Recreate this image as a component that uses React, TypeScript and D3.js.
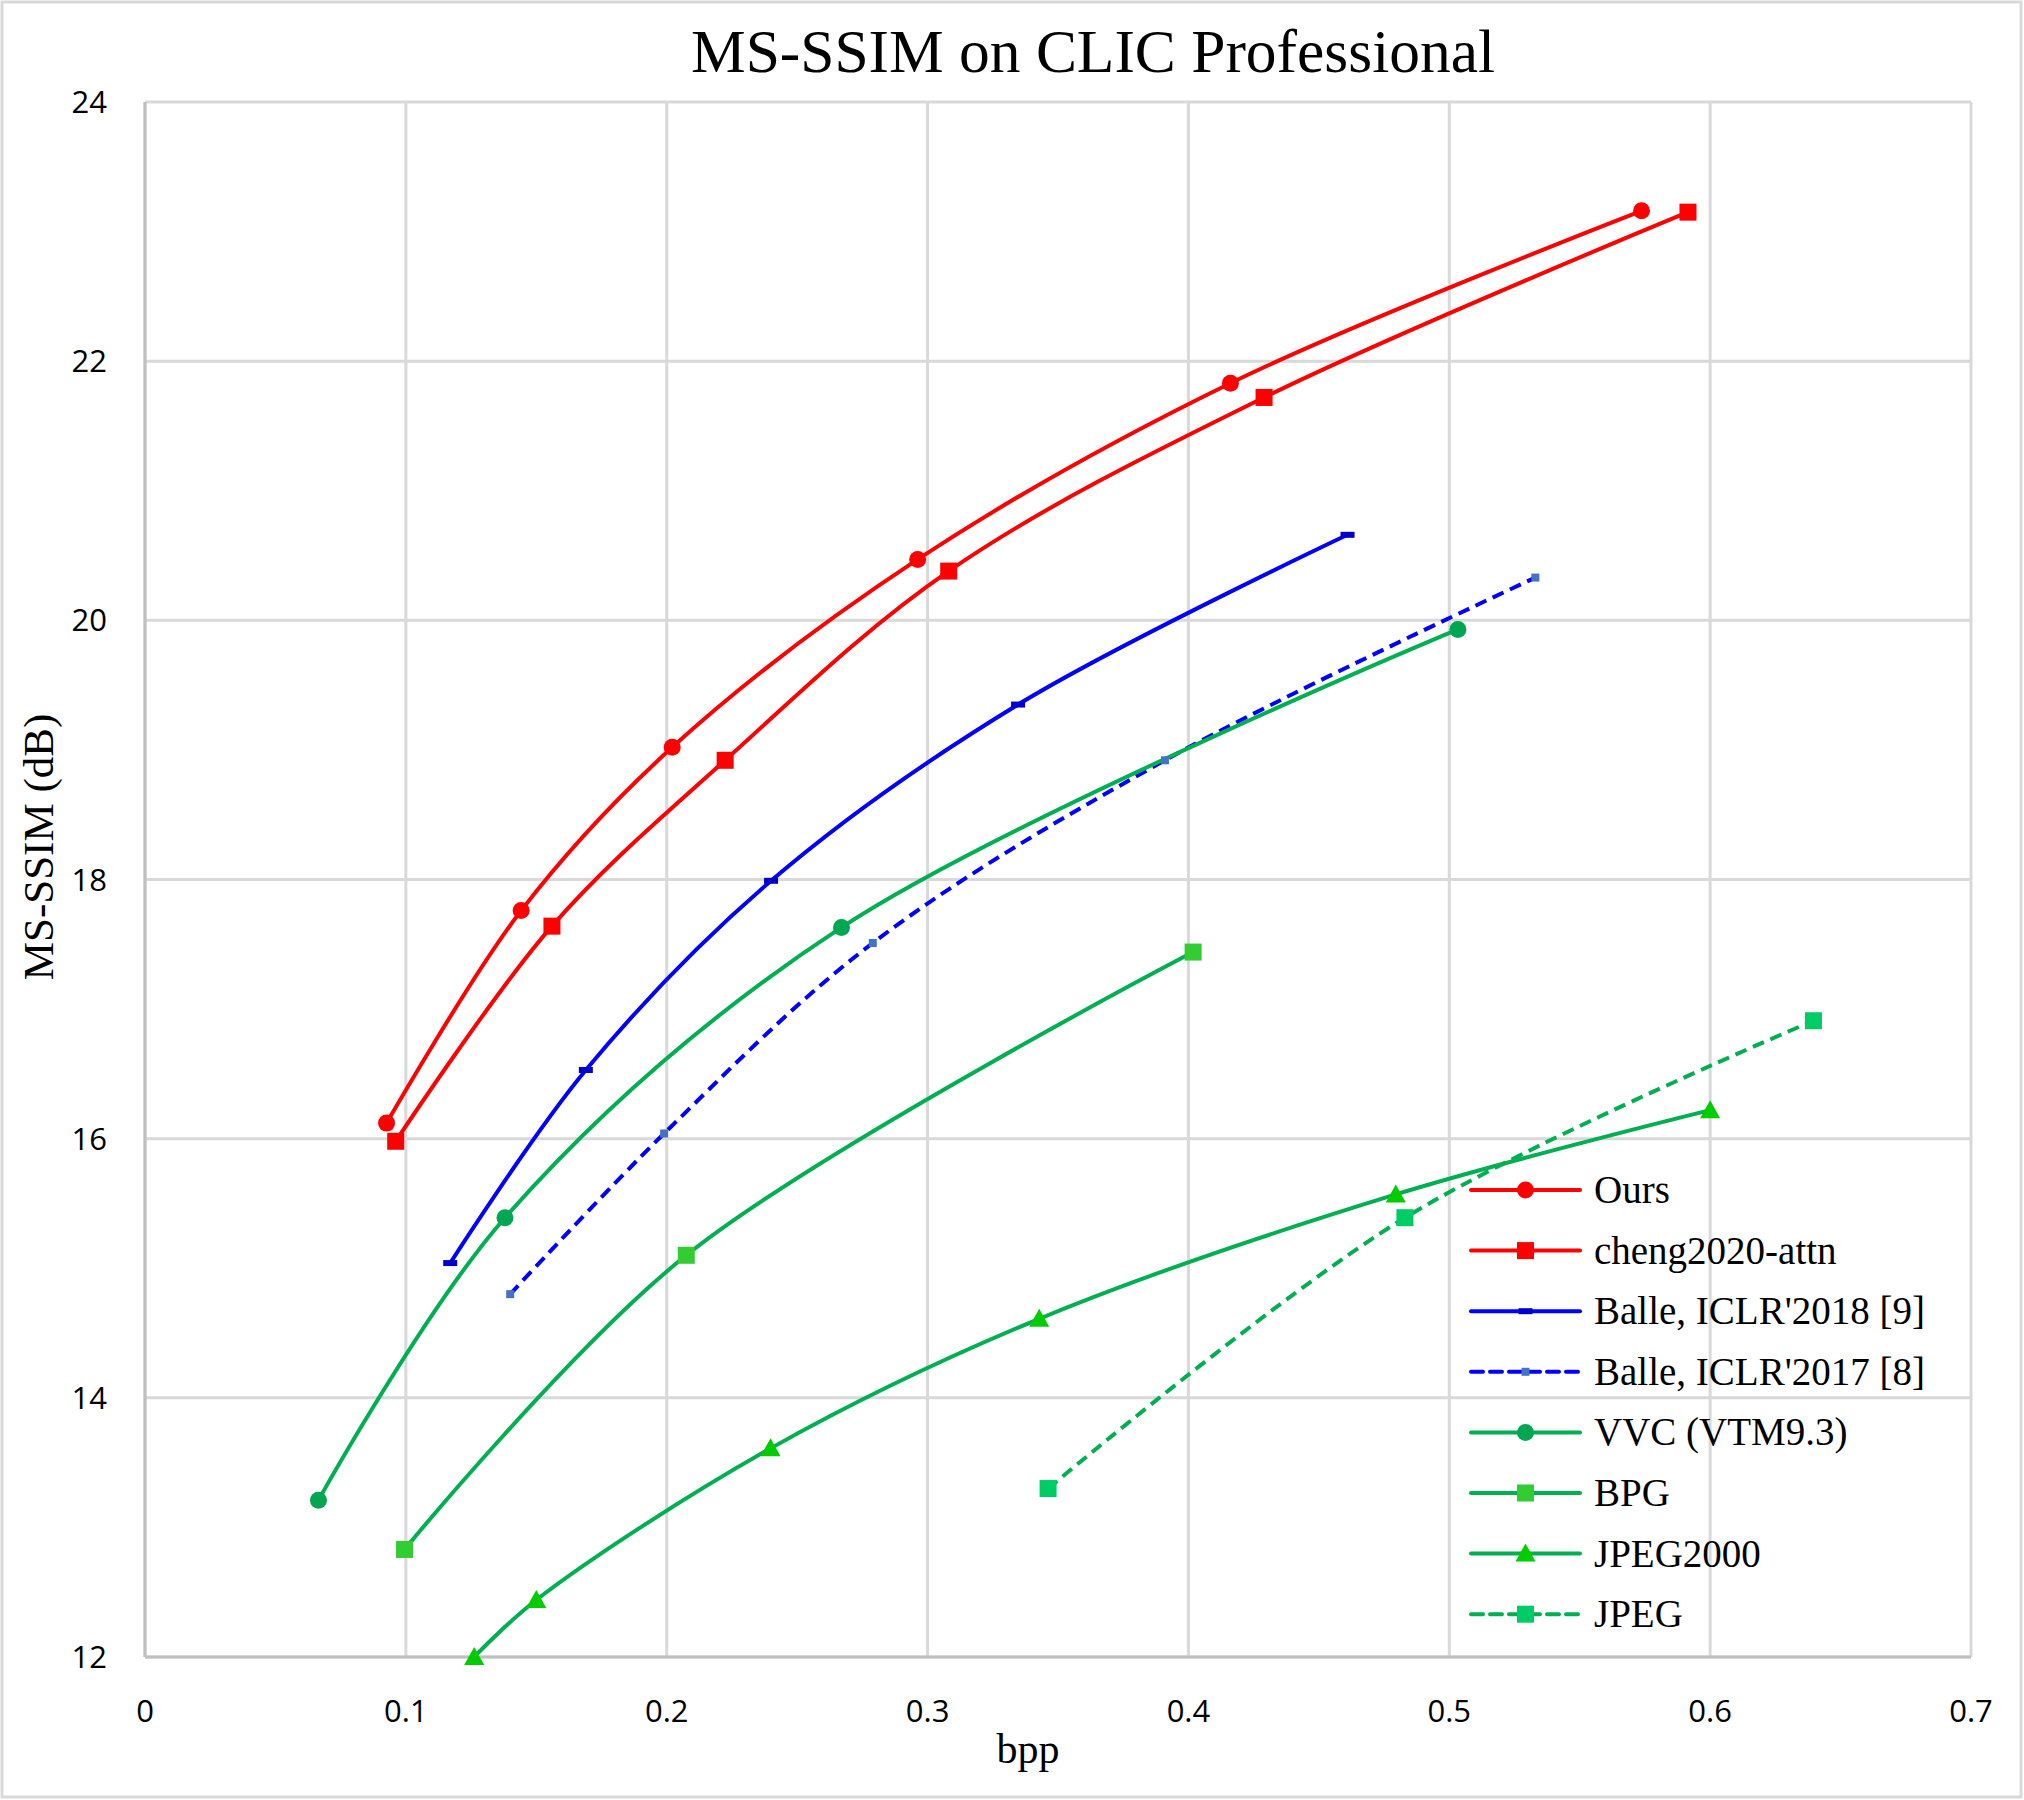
import React from "react";
import * as d3 from "d3";

const oursX = [0.0926, 0.1442, 0.2021, 0.2962, 0.4161, 0.5737];
const oursY = [16.12, 17.76, 19.02, 20.47, 21.83, 23.16];
const chengX = [0.0961, 0.156, 0.2224, 0.3081, 0.429, 0.5915];
const chengY = [15.98, 17.64, 18.92, 20.38, 21.72, 23.15];
const balle18X = [0.117, 0.169, 0.24, 0.3347, 0.461];
const balle18Y = [15.04, 16.53, 17.99, 19.35, 20.66];
const balle17X = [0.14, 0.199, 0.279, 0.391, 0.533];
const balle17Y = [14.8, 16.04, 17.51, 18.92, 20.33];
const vvcX = [0.0665, 0.138, 0.267, 0.5033];
const vvcY = [13.21, 15.39, 17.63, 19.93];
const bpgX = [0.0995, 0.2075, 0.4018];
const bpgY = [12.83, 15.1, 17.44];
const j2kX = [0.1262, 0.15, 0.2398, 0.3428, 0.4795, 0.6];
const j2kY = [12.0, 12.44, 13.61, 14.61, 15.57, 16.22];
const jpegX = [0.3462, 0.483, 0.6396];
const jpegY = [13.3, 15.39, 16.91];

const xTicks = [0, 0.1, 0.2, 0.3, 0.4, 0.5, 0.6, 0.7];
const yTicks = [12, 14, 16, 18, 20, 22, 24];
const xTickLabels = ["0", "0.1", "0.2", "0.3", "0.4", "0.5", "0.6", "0.7"];
const yTickLabels = ["12", "14", "16", "18", "20", "22", "24"];

const title = "MS-SSIM on CLIC Professional";
const xLabel = "bpp";
const yLabel = "MS-SSIM (dB)";

type Marker = "circle" | "square" | "dash" | "smallsquare" | "triangle";
interface Series {
  name: string;
  xs: number[];
  ys: number[];
  line: string;
  marker: string;
  shape: Marker;
  dashed: boolean;
}

const series: Series[] = [
  { name: "Ours", xs: oursX, ys: oursY, line: "#FF0000", marker: "#FF0000", shape: "circle", dashed: false },
  { name: "cheng2020-attn", xs: chengX, ys: chengY, line: "#FF0000", marker: "#FF0000", shape: "square", dashed: false },
  { name: "Balle, ICLR'2018 [9]", xs: balle18X, ys: balle18Y, line: "#0000FF", marker: "#0000CC", shape: "dash", dashed: false },
  { name: "Balle, ICLR'2017 [8]", xs: balle17X, ys: balle17Y, line: "#0000FF", marker: "#4472C4", shape: "smallsquare", dashed: true },
  { name: "VVC (VTM9.3)", xs: vvcX, ys: vvcY, line: "#00B050", marker: "#00A651", shape: "circle", dashed: false },
  { name: "BPG", xs: bpgX, ys: bpgY, line: "#00B050", marker: "#33CC33", shape: "square", dashed: false },
  { name: "JPEG2000", xs: j2kX, ys: j2kY, line: "#00B050", marker: "#00CC00", shape: "triangle", dashed: false },
  { name: "JPEG", xs: jpegX, ys: jpegY, line: "#00B050", marker: "#00CC66", shape: "square", dashed: true },
];

const W = 2024;
const H = 1800;
const left = 145;
const right = 1971;
const top = 102;
const bottom = 1657;

const x = d3.scaleLinear().domain([0, 0.7]).range([left, right]);
const y = d3.scaleLinear().domain([12, 24]).range([bottom, top]);

function MarkerShape({ shape, cx, cy, color }: { shape: Marker; cx: number; cy: number; color: string }) {
  switch (shape) {
    case "circle":
      return <circle cx={cx} cy={cy} r={8.5} fill={color} />;
    case "square":
      return <rect x={cx - 8.5} y={cy - 8.5} width={17} height={17} fill={color} />;
    case "dash":
      return <rect x={cx - 7} y={cy - 3} width={14} height={6} fill={color} />;
    case "smallsquare":
      return <rect x={cx - 4} y={cy - 4} width={8} height={8} fill={color} />;
    case "triangle": {
      const s = 10;
      return <path d={`M${cx},${cy - s}L${cx + s},${cy + s * 0.8}L${cx - s},${cy + s * 0.8}Z`} fill={color} />;
    }
  }
  return null;
}

export default function App() {
  const line = d3
    .line<[number, number]>()
    .x((d) => x(d[0]))
    .y((d) => y(d[1]))
    .curve(d3.curveCatmullRom.alpha(0.5));

  const legendX0 = 1471;
  const legendX1 = 1580;
  const legendY0 = 1190;
  const legendDy = 60.6;

  return (
    <>
      <style>{`body{margin:0}`}</style>
      <svg width={W} height={H} viewBox={`0 0 ${W} ${H}`} style={{ display: "block", background: "#fff" }}>
        <rect x={2} y={2} width={W - 5} height={H - 5} fill="#fff" stroke="#D9D9D9" strokeWidth={3} />
        <text
          x={1093}
          y={72}
          textAnchor="middle"
          fontFamily="'Liberation Serif', 'Times New Roman', serif"
          fontSize={62}
          textLength={804}
          lengthAdjust="spacingAndGlyphs"
          fill="#000"
        >
          {title}
        </text>
        {xTicks.map((t) => (
          <line key={"gx" + t} x1={x(t)} x2={x(t)} y1={top} y2={bottom} stroke="#D9D9D9" strokeWidth={3} />
        ))}
        {yTicks.map((t) => (
          <line key={"gy" + t} x1={left} x2={right} y1={y(t)} y2={y(t)} stroke="#D9D9D9" strokeWidth={3} />
        ))}
        <line x1={left} x2={left} y1={top} y2={bottom} stroke="#BFBFBF" strokeWidth={3} />
        <line x1={left} x2={right} y1={bottom} y2={bottom} stroke="#BFBFBF" strokeWidth={3} />
        {yTicks.map((t, i) => (
          <text
            key={"yt" + t}
            x={107}
            y={y(t) + 11}
            textAnchor="end"
            fontFamily="'Open Sans', 'Liberation Sans', sans-serif"
            fontSize={31}
            fill="#000"
          >
            {yTickLabels[i]}
          </text>
        ))}
        {xTicks.map((t, i) => (
          <text
            key={"xt" + t}
            x={x(t)}
            y={1722}
            textAnchor="middle"
            fontFamily="'Open Sans', 'Liberation Sans', sans-serif"
            fontSize={31}
            fill="#000"
          >
            {xTickLabels[i]}
          </text>
        ))}
        <text
          x={1028}
          y={1763}
          textAnchor="middle"
          fontFamily="'Liberation Serif', 'Times New Roman', serif"
          fontSize={42}
          fill="#000"
        >
          {xLabel}
        </text>
        <text
          transform={`translate(53,847) rotate(-90)`}
          textAnchor="middle"
          fontFamily="'Liberation Serif', 'Times New Roman', serif"
          fontSize={43}
          fill="#000"
        >
          {yLabel}
        </text>
        {series.map((s) => {
          const pts: [number, number][] = s.xs.map((v, i) => [v, s.ys[i]]);
          return (
            <path
              key={"l" + s.name}
              d={line(pts) || ""}
              fill="none"
              stroke={s.line}
              strokeWidth={4}
              strokeDasharray={s.dashed ? "12 7" : undefined}
            />
          );
        })}
        {series.map((s) =>
          s.xs.map((v, i) => (
            <MarkerShape key={"m" + s.name + i} shape={s.shape} cx={x(v)} cy={y(s.ys[i])} color={s.marker} />
          ))
        )}
        {series.map((s, i) => {
          const ly = legendY0 + i * legendDy;
          return (
            <g key={"lg" + s.name}>
              <line
                x1={legendX0}
                x2={legendX1}
                y1={ly}
                y2={ly}
                stroke={s.line}
                strokeWidth={4}
                strokeLinecap="round"
                strokeDasharray={s.dashed ? "12 7" : undefined}
              />
              <MarkerShape shape={s.shape} cx={(legendX0 + legendX1) / 2} cy={ly} color={s.marker} />
              <text
                x={1594}
                y={ly + 13}
                fontFamily="'Liberation Serif', 'Times New Roman', serif"
                fontSize={39}
                fill="#000"
              >
                {s.name}
              </text>
            </g>
          );
        })}
      </svg>
    </>
  );
}
